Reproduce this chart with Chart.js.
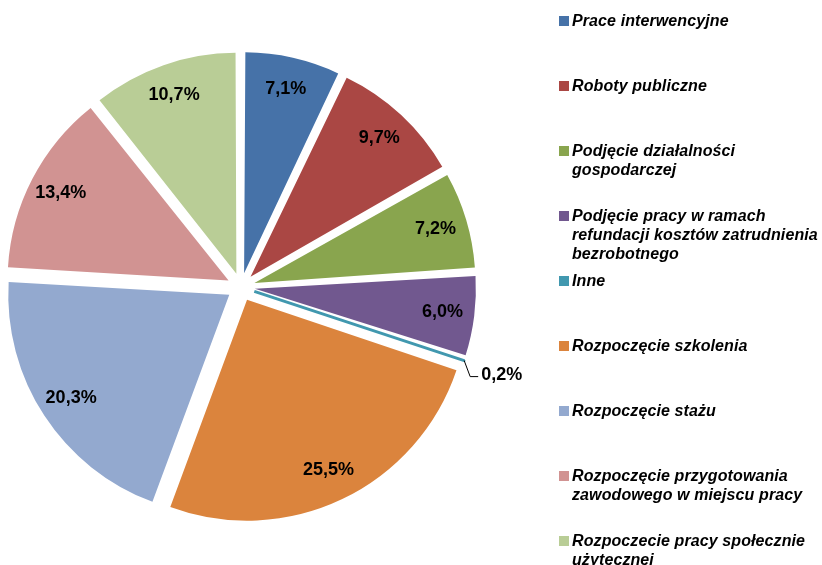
<!DOCTYPE html>
<html>
<head>
<meta charset="utf-8">
<script src="https://cdn.jsdelivr.net/npm/chart.js@4/dist/chart.umd.min.js"></script>
<style>
  html, body { margin: 0; padding: 0; background: #fff; }
  #wrap { position: relative; width: 822px; height: 565px; overflow: hidden; }
  #legend { position: absolute; left: 0; top: 0; width: 822px; }
  .item { position: absolute; left: 559px; font: italic bold 16px "Liberation Sans", Arial, sans-serif;
          letter-spacing: 0.1px; color: #000; line-height: 19px; white-space: pre; padding-left: 13px; }
  .box { position: absolute; left: 0; top: 5px; width: 10px; height: 10px; }
</style>
</head>
<body>
<div id="wrap">
  <canvas id="chart" width="822" height="565"></canvas>
  <div id="legend"></div>
</div>
<script>
const labels = [
    "Prace interwencyjne",
    "Roboty publiczne",
    "Podjęcie działalności\ngospodarczej",
    "Podjęcie pracy w ramach\nrefundacji kosztów zatrudnienia\nbezrobotnego",
    "Inne",
    "Rozpoczęcie szkolenia",
    "Rozpoczęcie stażu",
    "Rozpoczęcie przygotowania\nzawodowego w miejscu pracy",
    "Rozpoczecie pracy społecznie\nużytecznej"
];
const shares = [7.1, 9.7, 7.2, 6.0, 0.2, 25.5, 20.3, 13.4, 10.7];
const colors = ["#4672A8", "#AA4744", "#89A54E", "#71588F", "#4198AF", "#DB843D", "#93A9CF", "#D19392", "#B9CD96"];

const RADIUS = 221;
const EXPLODE = 56; // chart.js moves each arc by offset / 4

const fmt = v => v.toFixed(1).replace(".", ",") + "%";

// keep every exploded slice at the same radius (chart.js grows small ones)
const evenRadius = {
    id: "evenRadius",
    beforeDatasetsDraw(chart) {
        chart.getDatasetMeta(0).data.forEach(arc => {
            const off = (arc.options.offset || 0) / 4;
            const fix = 1 - Math.sin(Math.min(Math.PI, arc.circumference || 0));
            arc.outerRadius = RADIUS - off * fix;
        });
    }
};

// percent labels, small slices get a leader line outside
const sliceLabels = {
    id: "sliceLabels",
    afterDatasetsDraw(chart) {
        const ctx = chart.ctx;
        const arcs = chart.getDatasetMeta(0).data;
        const move = EXPLODE / 4;
        ctx.save();
        ctx.font = "bold 18px 'Liberation Sans', Arial, sans-serif";
        ctx.fillStyle = "#000";
        arcs.forEach((arc, i) => {
            const {x, y, startAngle, endAngle} = arc.getProps(["x", "y", "startAngle", "endAngle"], true);
            const mid = (startAngle + endAngle) / 2;
            const cos = Math.cos(mid), sin = Math.sin(mid);
            if (shares[i] < 1) {
                const r0 = RADIUS + move;
                const px = x + cos * r0, py = y + sin * r0;
                ctx.strokeStyle = "#000";
                ctx.lineWidth = 1;
                ctx.beginPath();
                ctx.moveTo(px, py);
                ctx.lineTo(px + 6, py + 16);
                ctx.lineTo(px + 14, py + 16);
                ctx.stroke();
                ctx.textAlign = "left";
                ctx.textBaseline = "middle";
                ctx.fillText(fmt(shares[i]), px + 17, py + 14);
            } else {
                const d = move + RADIUS * 0.855;
                ctx.textAlign = "center";
                ctx.textBaseline = "middle";
                ctx.fillText(fmt(shares[i]), x + cos * d, y + sin * d);
            }
        });
        ctx.restore();
    }
};

new Chart("chart", {
    type: "pie",
    data: {
        labels: labels,
        datasets: [{
            data: shares,
            backgroundColor: colors,
            borderColor: colors,
            borderWidth: shares.map(v => v < 1 ? 3 : 0),
            offset: EXPLODE,
            radius: RADIUS
        }]
    },
    options: {
        responsive: false,
        animation: false,
        layout: {padding: {left: 0, right: 340, top: 9, bottom: 0}},
        plugins: {legend: {display: false}, tooltip: {enabled: false}}
    },
    plugins: [evenRadius, sliceLabels]
});

const legend = document.getElementById("legend");
labels.forEach((name, i) => {
    const item = document.createElement("div");
    item.className = "item";
    item.style.top = (20 + 65 * i - 9.5) + "px";
    item.textContent = name;
    const box = document.createElement("span");
    box.className = "box";
    box.style.background = colors[i];
    item.prepend(box);
    legend.appendChild(item);
});
</script>
</body>
</html>
